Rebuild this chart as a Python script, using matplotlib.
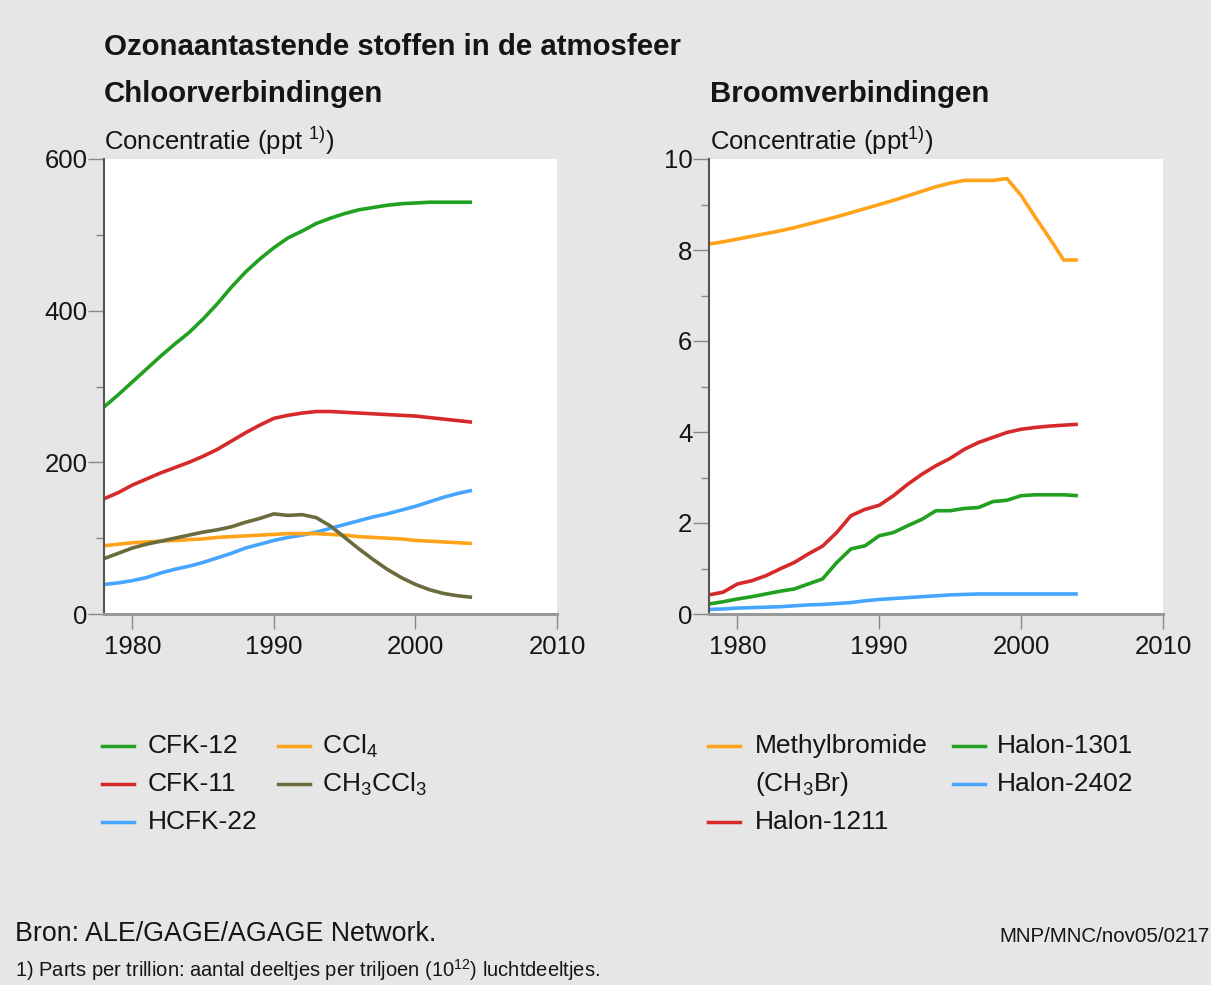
from matplotlib import pyplot as plt
from matplotlib.lines import Line2D

plt.rcParams["font.family"] = ["Liberation Sans", "DejaVu Sans"]
plt.rcParams["mathtext.fontset"] = "custom"
plt.rcParams["mathtext.rm"] = "Liberation Sans"
plt.rcParams["mathtext.it"] = "Liberation Sans:italic"
plt.rcParams["mathtext.bf"] = "Liberation Sans:bold"

FIG_W, FIG_H = 1211, 985
BG = "#e6e6e6"
TXT = "#151515"

years = list(range(1978, 2005))

# chloorverbindingen (ppt)
cfk12 = [273, 289, 306, 323, 340, 356, 371, 389, 409, 431, 451, 468, 483, 496,
         505, 515, 522, 528, 533, 536, 539, 541, 542, 543, 543, 543, 543]
cfk11 = [152, 160, 170, 178, 186, 193, 200, 208, 217, 228, 239, 249, 258, 262,
         265, 267, 267, 266, 265, 264, 263, 262, 261, 259, 257, 255, 253]
hcfk22 = [39, 41, 44, 48, 54, 59, 63, 68, 74, 80, 87, 92, 97, 101,
          104, 108, 113, 118, 123, 128, 132, 137, 142, 148, 154, 159, 163]
ccl4 = [90, 92, 94, 95, 96, 97, 98, 99, 101, 102, 103, 104, 105, 106,
        106, 106, 105, 104, 102, 101, 100, 99, 97, 96, 95, 94, 93]
ch3ccl3 = [73, 80, 87, 92, 96, 100, 104, 108, 111, 115, 121, 126, 132, 130,
           131, 127, 116, 101, 86, 72, 59, 48, 39, 32, 27, 24, 22]

# broomverbindingen (ppt)
methylbromide = [8.13, 8.18, 8.24, 8.30, 8.36, 8.42, 8.49, 8.57, 8.65, 8.73,
                 8.82, 8.91, 9.00, 9.09, 9.19, 9.29, 9.39, 9.47, 9.53, 9.53,
                 9.53, 9.57, 9.20, 8.72, 8.26, 7.78, 7.78]
halon1211 = [0.42, 0.48, 0.66, 0.73, 0.84, 0.99, 1.13, 1.32, 1.49, 1.79,
             2.16, 2.30, 2.39, 2.60, 2.85, 3.07, 3.26, 3.42, 3.62, 3.77,
             3.88, 3.99, 4.06, 4.10, 4.13, 4.15, 4.17]
halon1301 = [0.22, 0.27, 0.33, 0.38, 0.44, 0.50, 0.55, 0.66, 0.77, 1.13,
             1.43, 1.50, 1.72, 1.79, 1.94, 2.08, 2.27, 2.27, 2.32, 2.34,
             2.47, 2.50, 2.60, 2.62, 2.62, 2.62, 2.60]
halon2402 = [0.10, 0.11, 0.13, 0.14, 0.15, 0.16, 0.18, 0.20, 0.21, 0.23,
             0.25, 0.29, 0.32, 0.34, 0.36, 0.38, 0.40, 0.42, 0.43, 0.44,
             0.44, 0.44, 0.44, 0.44, 0.44, 0.44, 0.44]

GREEN = "#21a021"
RED = "#d62a2a"
BLUE = "#46a6ff"
ORANGE = "#ffa31a"
OLIVE = "#6b6b3d"

chloor_series = [
    ("CFK-12", cfk12, GREEN),
    ("CFK-11", cfk11, RED),
    ("HCFK-22", hcfk22, BLUE),
    ("CCl$_4$", ccl4, ORANGE),
    ("CH$_3$CCl$_3$", ch3ccl3, OLIVE),
]
broom_series = [
    ("Methylbromide", methylbromide, ORANGE),
    ("Halon-1211", halon1211, RED),
    ("Halon-1301", halon1301, GREEN),
    ("Halon-2402", halon2402, BLUE),
]

x_ticks = [1980, 1990, 2000, 2010]


def fx(px):
    return px / FIG_W


def fy(py):
    return 1 - py / FIG_H


def style_axes(ax, ymax, major, minor):
    ax.set_facecolor("white")
    ax.set_xlim(1978, 2010)
    ax.set_ylim(0, ymax)
    ax.set_xticks(x_ticks)
    ax.set_yticks(major)
    ax.set_yticks(minor, minor=True)
    for side in ["top", "right"]:
        ax.spines[side].set_visible(False)
    ax.spines["left"].set_color("#555555")
    ax.spines["left"].set_linewidth(1.5)
    ax.spines["bottom"].set_color("#999999")
    ax.spines["bottom"].set_linewidth(2.2)
    ax.tick_params(axis="y", which="major", length=11.5, width=1, color="#888888",
                   labelsize=18.5, pad=0.5, labelcolor=TXT)
    ax.tick_params(axis="y", which="minor", length=6, width=1, color="#888888")
    ax.tick_params(axis="x", which="major", length=11, width=1, color="#888888",
                   labelsize=18.5, pad=4, labelcolor=TXT)


def legend_entry(fig, x_line, x_text, y, label, color):
    fig.add_artist(Line2D([fx(x_line), fx(x_line + 32)], [fy(y), fy(y)],
                          color=color, linewidth=2.5))
    fig.text(fx(x_text), fy(y), label, fontsize=19, va="center", ha="left",
             color=TXT)


def main():
    fig = plt.figure(figsize=(FIG_W / 100, FIG_H / 100), dpi=100, facecolor=BG)

    bottom = fy(614)
    height = fy(159) - bottom
    ax1 = fig.add_axes([fx(104), bottom, fx(557) - fx(104), height])
    ax2 = fig.add_axes([fx(709), bottom, fx(1163) - fx(709), height])

    for label, values, color in chloor_series:
        ax1.plot(years, values, color=color, linewidth=2.6, solid_capstyle="butt")
    for label, values, color in broom_series:
        ax2.plot(years, values, color=color, linewidth=2.6, solid_capstyle="butt")

    style_axes(ax1, 600, [0, 200, 400, 600], [100, 300, 500])
    style_axes(ax2, 10, [0, 2, 4, 6, 8, 10], [1, 3, 5, 7, 9])

    # titles
    fig.text(fx(104), fy(55), "Ozonaantastende stoffen in de atmosfeer",
             fontsize=21.2, fontweight="bold", va="baseline", color=TXT)
    fig.text(fx(104), fy(102), "Chloorverbindingen", fontsize=21.2,
             fontweight="bold", va="baseline", color=TXT)
    fig.text(fx(710), fy(102), "Broomverbindingen", fontsize=21.2,
             fontweight="bold", va="baseline", color=TXT)
    fig.text(fx(104), fy(150), "Concentratie (ppt $^{1)}$)", fontsize=18.5,
             va="baseline", color=TXT)
    fig.text(fx(710), fy(150), "Concentratie (ppt$^{1)}$)", fontsize=18.5,
             va="baseline", color=TXT)

    # legends
    rows = [746, 784, 822]
    for i, (label, values, color) in enumerate(chloor_series):
        if i < 3:
            legend_entry(fig, 102, 148, rows[i], label, color)
        else:
            legend_entry(fig, 278, 322, rows[i - 3], label, color)

    legend_entry(fig, 708, 755, rows[0], broom_series[0][0], broom_series[0][2])
    fig.text(fx(755), fy(rows[1]), "(CH$_3$Br)", fontsize=19, va="center",
             ha="left", color=TXT)
    legend_entry(fig, 708, 755, rows[2], broom_series[1][0], broom_series[1][2])
    legend_entry(fig, 953, 997, rows[0], broom_series[2][0], broom_series[2][2])
    legend_entry(fig, 953, 997, rows[1], broom_series[3][0], broom_series[3][2])

    # bron / footnote
    fig.text(fx(15), fy(941), "Bron: ALE/GAGE/AGAGE Network.", fontsize=19.3,
             va="baseline", color=TXT)
    fig.text(fx(1210), fy(942), "MNP/MNC/nov05/0217", fontsize=14.8,
             va="baseline", ha="right", color=TXT)
    fig.text(fx(15), fy(977),
             "1) Parts per trillion: aantal deeltjes per triljoen (10$^{12}$) luchtdeeltjes.",
             fontsize=14.5, va="baseline", color=TXT)

    fig.savefig("out.png", dpi=100, facecolor=BG)


if __name__ == "__main__":
    main()
